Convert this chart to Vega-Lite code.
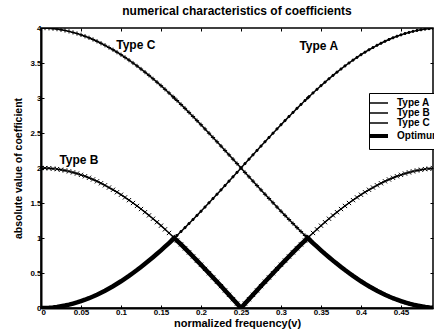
{
  "$schema": "https://vega.github.io/schema/vega-lite/v6.json",
  "autosize": "none",
  "width": 392,
  "height": 280,
  "padding": {"left": 41, "top": 28, "right": 1, "bottom": 24},
  "background": "white",
  "title": {"text": "numerical characteristics of coefficients", "font": "Liberation Sans", "fontSize": 12, "fontWeight": "bold", "color": "black", "offset": 6, "anchor": "middle"},
  "config": {
    "view": {"stroke": "black", "strokeWidth": 1.5},
    "axis": {"labelFont": "Liberation Sans", "labelFontSize": 8, "labelFontWeight": "bold", "labelColor": "black", "titleFont": "Liberation Sans", "titleFontSize": 11, "titleFontWeight": "bold", "titleColor": "black", "domainColor": "black", "domainWidth": 2, "tickColor": "black", "tickSize": -3, "labelPadding": 3, "grid": false},
    "legend": {"labelFont": "Liberation Sans", "labelFontSize": 10, "labelFontWeight": "bold", "labelColor": "black"}
  },
  "data": {"values": [
    {"v":0,"Type A":0,"Type B":2,"Type C":4,"Optimum":0},
    {"v":0.005,"Type A":0.001,"Type B":1.999,"Type C":3.999,"Optimum":0.001},
    {"v":0.01,"Type A":0.004,"Type B":1.996,"Type C":3.996,"Optimum":0.004},
    {"v":0.015,"Type A":0.009,"Type B":1.991,"Type C":3.991,"Optimum":0.009},
    {"v":0.02,"Type A":0.016,"Type B":1.984,"Type C":3.984,"Optimum":0.016},
    {"v":0.025,"Type A":0.025,"Type B":1.975,"Type C":3.975,"Optimum":0.025},
    {"v":0.03,"Type A":0.035,"Type B":1.965,"Type C":3.965,"Optimum":0.035},
    {"v":0.035,"Type A":0.048,"Type B":1.952,"Type C":3.952,"Optimum":0.048},
    {"v":0.04,"Type A":0.063,"Type B":1.937,"Type C":3.937,"Optimum":0.063},
    {"v":0.045,"Type A":0.079,"Type B":1.921,"Type C":3.921,"Optimum":0.079},
    {"v":0.05,"Type A":0.098,"Type B":1.902,"Type C":3.902,"Optimum":0.098},
    {"v":0.055,"Type A":0.118,"Type B":1.882,"Type C":3.882,"Optimum":0.118},
    {"v":0.06,"Type A":0.14,"Type B":1.86,"Type C":3.86,"Optimum":0.14},
    {"v":0.065,"Type A":0.164,"Type B":1.836,"Type C":3.836,"Optimum":0.164},
    {"v":0.07,"Type A":0.19,"Type B":1.81,"Type C":3.81,"Optimum":0.19},
    {"v":0.075,"Type A":0.218,"Type B":1.782,"Type C":3.782,"Optimum":0.218},
    {"v":0.08,"Type A":0.247,"Type B":1.753,"Type C":3.753,"Optimum":0.247},
    {"v":0.085,"Type A":0.279,"Type B":1.721,"Type C":3.721,"Optimum":0.279},
    {"v":0.09,"Type A":0.311,"Type B":1.689,"Type C":3.689,"Optimum":0.311},
    {"v":0.095,"Type A":0.346,"Type B":1.654,"Type C":3.654,"Optimum":0.346},
    {"v":0.1,"Type A":0.382,"Type B":1.618,"Type C":3.618,"Optimum":0.382},
    {"v":0.105,"Type A":0.42,"Type B":1.58,"Type C":3.58,"Optimum":0.42},
    {"v":0.11,"Type A":0.459,"Type B":1.541,"Type C":3.541,"Optimum":0.459},
    {"v":0.115,"Type A":0.5,"Type B":1.5,"Type C":3.5,"Optimum":0.5},
    {"v":0.12,"Type A":0.542,"Type B":1.458,"Type C":3.458,"Optimum":0.542},
    {"v":0.125,"Type A":0.586,"Type B":1.414,"Type C":3.414,"Optimum":0.586},
    {"v":0.13,"Type A":0.631,"Type B":1.369,"Type C":3.369,"Optimum":0.631},
    {"v":0.135,"Type A":0.677,"Type B":1.323,"Type C":3.323,"Optimum":0.677},
    {"v":0.14,"Type A":0.725,"Type B":1.275,"Type C":3.275,"Optimum":0.725},
    {"v":0.145,"Type A":0.774,"Type B":1.226,"Type C":3.226,"Optimum":0.774},
    {"v":0.15,"Type A":0.824,"Type B":1.176,"Type C":3.176,"Optimum":0.824},
    {"v":0.155,"Type A":0.876,"Type B":1.124,"Type C":3.124,"Optimum":0.876},
    {"v":0.16,"Type A":0.928,"Type B":1.072,"Type C":3.072,"Optimum":0.928},
    {"v":0.165,"Type A":0.982,"Type B":1.018,"Type C":3.018,"Optimum":0.982},
    {"v":0.1667,"Type A":1,"Type B":1,"Type C":3,"Optimum":1},
    {"v":0.17,"Type A":1.036,"Type B":0.964,"Type C":2.964,"Optimum":0.964},
    {"v":0.175,"Type A":1.092,"Type B":0.908,"Type C":2.908,"Optimum":0.908},
    {"v":0.18,"Type A":1.148,"Type B":0.852,"Type C":2.852,"Optimum":0.852},
    {"v":0.185,"Type A":1.206,"Type B":0.794,"Type C":2.794,"Optimum":0.794},
    {"v":0.19,"Type A":1.264,"Type B":0.736,"Type C":2.736,"Optimum":0.736},
    {"v":0.195,"Type A":1.323,"Type B":0.677,"Type C":2.677,"Optimum":0.677},
    {"v":0.2,"Type A":1.382,"Type B":0.618,"Type C":2.618,"Optimum":0.618},
    {"v":0.205,"Type A":1.442,"Type B":0.558,"Type C":2.558,"Optimum":0.558},
    {"v":0.21,"Type A":1.503,"Type B":0.497,"Type C":2.497,"Optimum":0.497},
    {"v":0.215,"Type A":1.564,"Type B":0.436,"Type C":2.436,"Optimum":0.436},
    {"v":0.22,"Type A":1.625,"Type B":0.375,"Type C":2.375,"Optimum":0.375},
    {"v":0.225,"Type A":1.687,"Type B":0.313,"Type C":2.313,"Optimum":0.313},
    {"v":0.23,"Type A":1.749,"Type B":0.251,"Type C":2.251,"Optimum":0.251},
    {"v":0.235,"Type A":1.812,"Type B":0.188,"Type C":2.188,"Optimum":0.188},
    {"v":0.24,"Type A":1.874,"Type B":0.126,"Type C":2.126,"Optimum":0.126},
    {"v":0.245,"Type A":1.937,"Type B":0.063,"Type C":2.063,"Optimum":0.063},
    {"v":0.25,"Type A":2,"Type B":0,"Type C":2,"Optimum":0},
    {"v":0.255,"Type A":2.063,"Type B":0.063,"Type C":1.937,"Optimum":0.063},
    {"v":0.26,"Type A":2.126,"Type B":0.126,"Type C":1.874,"Optimum":0.126},
    {"v":0.265,"Type A":2.188,"Type B":0.188,"Type C":1.812,"Optimum":0.188},
    {"v":0.27,"Type A":2.251,"Type B":0.251,"Type C":1.749,"Optimum":0.251},
    {"v":0.275,"Type A":2.313,"Type B":0.313,"Type C":1.687,"Optimum":0.313},
    {"v":0.28,"Type A":2.375,"Type B":0.375,"Type C":1.625,"Optimum":0.375},
    {"v":0.285,"Type A":2.436,"Type B":0.436,"Type C":1.564,"Optimum":0.436},
    {"v":0.29,"Type A":2.497,"Type B":0.497,"Type C":1.503,"Optimum":0.497},
    {"v":0.295,"Type A":2.558,"Type B":0.558,"Type C":1.442,"Optimum":0.558},
    {"v":0.3,"Type A":2.618,"Type B":0.618,"Type C":1.382,"Optimum":0.618},
    {"v":0.305,"Type A":2.677,"Type B":0.677,"Type C":1.323,"Optimum":0.677},
    {"v":0.31,"Type A":2.736,"Type B":0.736,"Type C":1.264,"Optimum":0.736},
    {"v":0.315,"Type A":2.794,"Type B":0.794,"Type C":1.206,"Optimum":0.794},
    {"v":0.32,"Type A":2.852,"Type B":0.852,"Type C":1.148,"Optimum":0.852},
    {"v":0.325,"Type A":2.908,"Type B":0.908,"Type C":1.092,"Optimum":0.908},
    {"v":0.33,"Type A":2.964,"Type B":0.964,"Type C":1.036,"Optimum":0.964},
    {"v":0.3333,"Type A":3,"Type B":1,"Type C":1,"Optimum":1},
    {"v":0.335,"Type A":3.018,"Type B":1.018,"Type C":0.982,"Optimum":0.982},
    {"v":0.34,"Type A":3.072,"Type B":1.072,"Type C":0.928,"Optimum":0.928},
    {"v":0.345,"Type A":3.124,"Type B":1.124,"Type C":0.876,"Optimum":0.876},
    {"v":0.35,"Type A":3.176,"Type B":1.176,"Type C":0.824,"Optimum":0.824},
    {"v":0.355,"Type A":3.226,"Type B":1.226,"Type C":0.774,"Optimum":0.774},
    {"v":0.36,"Type A":3.275,"Type B":1.275,"Type C":0.725,"Optimum":0.725},
    {"v":0.365,"Type A":3.323,"Type B":1.323,"Type C":0.677,"Optimum":0.677},
    {"v":0.37,"Type A":3.369,"Type B":1.369,"Type C":0.631,"Optimum":0.631},
    {"v":0.375,"Type A":3.414,"Type B":1.414,"Type C":0.586,"Optimum":0.586},
    {"v":0.38,"Type A":3.458,"Type B":1.458,"Type C":0.542,"Optimum":0.542},
    {"v":0.385,"Type A":3.5,"Type B":1.5,"Type C":0.5,"Optimum":0.5},
    {"v":0.39,"Type A":3.541,"Type B":1.541,"Type C":0.459,"Optimum":0.459},
    {"v":0.395,"Type A":3.58,"Type B":1.58,"Type C":0.42,"Optimum":0.42},
    {"v":0.4,"Type A":3.618,"Type B":1.618,"Type C":0.382,"Optimum":0.382},
    {"v":0.405,"Type A":3.654,"Type B":1.654,"Type C":0.346,"Optimum":0.346},
    {"v":0.41,"Type A":3.689,"Type B":1.689,"Type C":0.311,"Optimum":0.311},
    {"v":0.415,"Type A":3.721,"Type B":1.721,"Type C":0.279,"Optimum":0.279},
    {"v":0.42,"Type A":3.753,"Type B":1.753,"Type C":0.247,"Optimum":0.247},
    {"v":0.425,"Type A":3.782,"Type B":1.782,"Type C":0.218,"Optimum":0.218},
    {"v":0.43,"Type A":3.81,"Type B":1.81,"Type C":0.19,"Optimum":0.19},
    {"v":0.435,"Type A":3.836,"Type B":1.836,"Type C":0.164,"Optimum":0.164},
    {"v":0.44,"Type A":3.86,"Type B":1.86,"Type C":0.14,"Optimum":0.14},
    {"v":0.445,"Type A":3.882,"Type B":1.882,"Type C":0.118,"Optimum":0.118},
    {"v":0.45,"Type A":3.902,"Type B":1.902,"Type C":0.098,"Optimum":0.098},
    {"v":0.455,"Type A":3.921,"Type B":1.921,"Type C":0.079,"Optimum":0.079},
    {"v":0.46,"Type A":3.937,"Type B":1.937,"Type C":0.063,"Optimum":0.063},
    {"v":0.465,"Type A":3.952,"Type B":1.952,"Type C":0.048,"Optimum":0.048},
    {"v":0.47,"Type A":3.965,"Type B":1.965,"Type C":0.035,"Optimum":0.035},
    {"v":0.475,"Type A":3.975,"Type B":1.975,"Type C":0.025,"Optimum":0.025},
    {"v":0.48,"Type A":3.984,"Type B":1.984,"Type C":0.016,"Optimum":0.016},
    {"v":0.485,"Type A":3.991,"Type B":1.991,"Type C":0.009,"Optimum":0.009},
    {"v":0.49,"Type A":3.996,"Type B":1.996,"Type C":0.004,"Optimum":0.004},
    {"v":0.495,"Type A":3.999,"Type B":1.999,"Type C":0.001,"Optimum":0.001},
    {"v":0.5,"Type A":4,"Type B":2,"Type C":0,"Optimum":0}
  ]},
  "transform": [{"fold": ["Type A", "Type B", "Type C", "Optimum"], "as": ["series", "value"]}],
  "resolve": {"axis": {"x": "independent", "y": "independent"}},
  "layer": [
    {
      "transform": [{"filter": {"field": "series", "oneOf": ["Type A", "Type B", "Type C"]}}],
      "mark": {"type": "line", "clip": true, "strokeWidth": 1.5},
      "encoding": {
        "x": {"field": "v", "type": "quantitative", "scale": {"domain": [0, 0.49], "nice": false, "zero": false}, "axis": {"values": [0,0.05,0.1,0.15,0.2,0.25,0.3,0.35,0.4,0.45], "format": ".2~f", "title": "normalized frequency(v)", "titlePadding": 1}},
        "y": {"field": "value", "type": "quantitative", "scale": {"domain": [0, 4], "nice": false}, "axis": {"values": [0,0.5,1,1.5,2,2.5,3,3.5,4], "format": ".2~f", "title": "absolute value of coefficient", "titlePadding": 6, "titleFontSize": 10.5}},
        "color": {"field": "series", "type": "nominal", "scale": {"domain": ["Type A", "Type B", "Type C", "Optimum"], "range": ["black", "black", "black", "black"]}, "legend": {"title": null, "orient": "none", "legendX": 328, "legendY": 65, "symbolType": "M-1.8,0L1.8,0", "symbolSize": 100, "symbolStrokeWidth": 1.5, "strokeColor": "black", "fillColor": "white", "padding": 5, "rowPadding": 0, "labelOffset": 13, "cornerRadius": 0, "encode": {"symbols": {"update": {"strokeWidth": {"signal": "datum.label === 'Optimum' ? 4 : 1.5"}}}}}},
        "order": {"field": "v", "type": "quantitative"}
      }
    },
    {
      "transform": [{"filter": {"field": "series", "equal": "Optimum"}}],
      "mark": {"type": "line", "clip": true, "strokeWidth": 4.5},
      "encoding": {
        "x": {"field": "v", "type": "quantitative", "axis": null},
        "y": {"field": "value", "type": "quantitative", "axis": null},
        "color": {"field": "series", "type": "nominal"},
        "order": {"field": "v", "type": "quantitative"}
      }
    },
    {
      "transform": [{"filter": {"field": "series", "oneOf": ["Type A", "Type B", "Type C"]}}],
      "mark": {"type": "point", "clip": true, "filled": true, "stroke": "black", "strokeWidth": 1, "opacity": 1},
      "encoding": {
        "x": {"field": "v", "type": "quantitative", "axis": {"orient": "top", "labels": false, "title": null, "domain": false, "values": [0,0.05,0.1,0.15,0.2,0.25,0.3,0.35,0.4,0.45]}},
        "y": {"field": "value", "type": "quantitative", "axis": {"orient": "right", "labels": false, "title": null, "domain": false, "values": [0,0.5,1,1.5,2,2.5,3,3.5,4]}},
        "shape": {"field": "series", "type": "nominal", "scale": {"domain": ["Type A", "Type B", "Type C"], "range": ["circle", "M-1,-1L1,1M-1,1L1,-1", "M-1,0L1,0M0,-1L0,1"]}, "legend": null},
        "fill": {"condition": {"test": "datum.series === 'Type A'", "value": "black"}, "value": "transparent"},
        "size": {"condition": {"test": "datum.series === 'Type A'", "value": 5}, "value": 18}
      }
    },
    {
      "data": {"values": [
        {"label": "Type C", "v": 0.094, "value": 3.76},
        {"label": "Type A", "v": 0.323, "value": 3.74},
        {"label": "Type B", "v": 0.023, "value": 2.12}
      ]},
      "mark": {"type": "text", "align": "left", "baseline": "middle", "font": "Liberation Sans", "fontSize": 12, "fontWeight": "bold", "color": "black"},
      "encoding": {
        "x": {"field": "v", "type": "quantitative", "axis": null},
        "y": {"field": "value", "type": "quantitative", "axis": null},
        "text": {"field": "label"}
      }
    }
  ]
}
